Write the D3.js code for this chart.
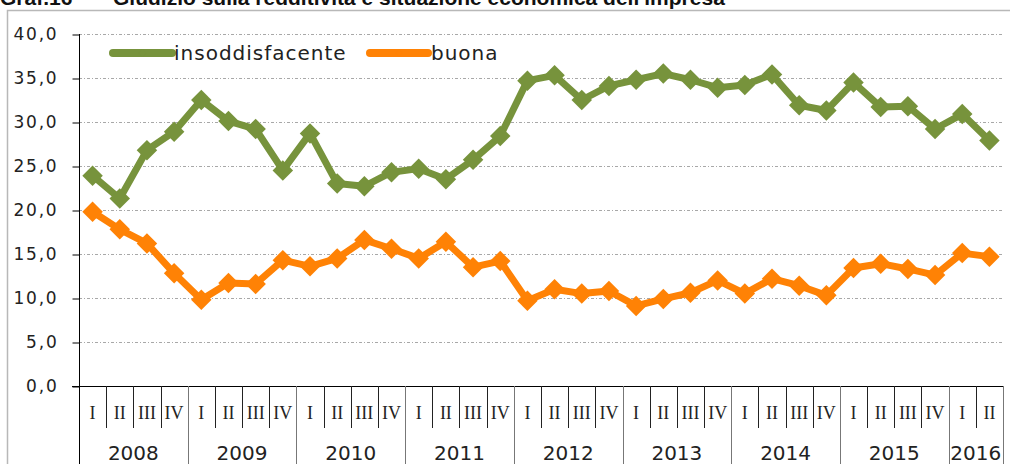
<!DOCTYPE html>
<html>
<head>
<meta charset="utf-8">
<script src="https://cdn.jsdelivr.net/npm/d3@7"></script>
<style>
  body { margin: 0; background: #fff; }
  svg { display: block; }
</style>
</head>
<body>
<svg id="chart" width="1010" height="464"></svg>
<script>
// dati
var years = ["2008", "2009", "2010", "2011", "2012", "2013", "2014", "2015", "2016"];
var quarters = ["I", "II", "III", "IV"];
var insoddisfacente = [23.9, 21.3, 26.8, 28.9, 32.5, 30.1, 29.2, 24.5, 28.7, 23.0, 22.7, 24.3,
                       24.7, 23.5, 25.7, 28.4, 34.7, 35.3, 32.5, 34.1, 34.8, 35.5, 34.8, 33.9,
                       34.2, 35.4, 31.9, 31.3, 34.5, 31.7, 31.8, 29.2, 30.9, 27.9];
var buona = [19.8, 17.8, 16.2, 12.8, 9.8, 11.7, 11.6, 14.3, 13.6, 14.5, 16.6, 15.6,
             14.5, 16.4, 13.5, 14.2, 9.7, 11.0, 10.5, 10.8, 9.1, 9.9, 10.6, 12.0,
             10.5, 12.2, 11.4, 10.3, 13.4, 13.9, 13.3, 12.6, 15.1, 14.7];
var yTicks = [0, 5, 10, 15, 20, 25, 30, 35, 40];

var svg = d3.select("#chart");
var mLeft = 79, mRight = 1003, mTop = 34, mBottom = 386;

// categorie: anno + trimestre
var cats = [];
for (var i = 0; i < insoddisfacente.length; i++) {
  cats.push({ i: i, q: quarters[i % 4], y: years[Math.floor(i / 4)] });
}

var x = d3.scaleBand().domain(d3.range(cats.length)).range([mLeft, mRight]);
var y = d3.scaleLinear().domain([0, 40]).range([mBottom, mTop]);

// titolo (tagliato in alto)
svg.append("text").attr("x", 0).attr("y", 5)
   .style("font", "bold 21px 'Liberation Sans', Arial, sans-serif").attr("fill", "#111")
   .text("Graf.16");
svg.append("text").attr("x", 113).attr("y", 5)
   .style("font", "bold 21px 'Liberation Sans', Arial, sans-serif").attr("fill", "#111")
   .text("Giudizio sulla redditività e situazione economica dell'impresa");

// cornice
svg.append("path").attr("d", "M7.5,464 L7.5,10.5 L1010,10.5")
   .attr("fill", "none").attr("stroke", "#b8b8b8").attr("stroke-width", 1.5);

// griglia
svg.append("g").selectAll("line").data(yTicks.filter(function(d){ return d > 0; }))
   .enter().append("line")
   .attr("x1", mLeft).attr("x2", mRight)
   .attr("y1", function(d){ return Math.round(y(d)) + 0.5; })
   .attr("y2", function(d){ return Math.round(y(d)) + 0.5; })
   .attr("stroke", "#a8a8a8").attr("stroke-width", 1)
   .attr("stroke-dasharray", "3,2,1,2");

// asse y
var yAxis = svg.append("g").attr("transform", "translate(" + (mLeft + 0.5) + ",0.5)")
   .call(d3.axisLeft(y).tickValues(yTicks).tickSize(7).tickPadding(14)
        .tickFormat(function(d){ return d3.format(".1f")(d).replace(".", ","); }));
yAxis.select(".domain").remove();
yAxis.selectAll(".tick line").attr("stroke", "#000");
yAxis.selectAll(".tick text")
   .style("font-family", "'DejaVu Sans', sans-serif").style("font-size", "17px")
   .style("letter-spacing", "1.8px").attr("fill", "#222");

// assi
svg.append("line").attr("x1", mLeft + 0.5).attr("x2", mLeft + 0.5).attr("y1", mTop).attr("y2", 464)
   .attr("stroke", "#000");
svg.append("line").attr("x1", mLeft - 7).attr("x2", mRight).attr("y1", mBottom + 0.5).attr("y2", mBottom + 0.5)
   .attr("stroke", "#000");

// separatori trimestri / anni
var seps = d3.range(1, cats.length + 1);
svg.append("g").selectAll("line").data(seps).enter().append("line")
   .attr("x1", function(d){ return Math.round(x(d - 1) + x.bandwidth()) + 0.5; })
   .attr("x2", function(d){ return Math.round(x(d - 1) + x.bandwidth()) + 0.5; })
   .attr("y1", mBottom)
   .attr("y2", function(d){ return (d % 4 === 0 || d === cats.length) ? 464 : 428; })
   .attr("stroke", function(d){ return (d % 4 === 0 || d === cats.length) ? "#777" : "#222"; });

svg.append("g").selectAll("text").data(cats).enter().append("text")
   .attr("x", function(d){ return x(d.i) + x.bandwidth() / 2; })
   .attr("y", 419).attr("text-anchor", "middle")
   .style("font-family", "'Liberation Serif', serif").style("font-size", "18px")
   .attr("fill", "#222")
   .text(function(d){ return d.q; });

svg.append("g").selectAll("text").data(years).enter().append("text")
   .attr("x", function(d, k){
      var a = k * 4, b = Math.min(k * 4 + 3, cats.length - 1);
      return (x(a) + x(b) + x.bandwidth()) / 2;
   })
   .attr("y", 460).attr("text-anchor", "middle")
   .style("font-family", "'DejaVu Sans', sans-serif").style("font-size", "20px")
   .attr("fill", "#222")
   .text(function(d){ return d; });

// serie
var series = [
  { name: "insoddisfacente", values: insoddisfacente, color: "#77933c" },
  { name: "buona", values: buona, color: "#ff8205" }
];
var line = d3.line()
   .x(function(d, i){ return x(i) + x.bandwidth() / 2; })
   .y(function(d){ return y(d); });
var diamond = d3.symbol().type(d3.symbolSquare).size(210);

series.forEach(function(s){
  svg.append("path").datum(s.values)
     .attr("d", line).attr("fill", "none")
     .attr("stroke", s.color).attr("stroke-width", 7).attr("stroke-linejoin", "round");
  svg.append("g").selectAll("path").data(s.values).enter().append("path")
     .attr("d", diamond)
     .attr("transform", function(d, i){
        return "translate(" + (x(i) + x.bandwidth() / 2) + "," + y(d) + ") rotate(45)";
     })
     .attr("fill", s.color);
});

// legenda
var legendPos = [{ x1: 113, x2: 172, tx: 174 }, { x1: 370, x2: 428, tx: 431 }];
series.forEach(function(s, k){
  var p = legendPos[k];
  svg.append("line").attr("x1", p.x1).attr("x2", p.x2).attr("y1", 53).attr("y2", 53)
     .attr("stroke", s.color).attr("stroke-width", 8).attr("stroke-linecap", "round");
  svg.append("path").attr("d", d3.symbol().type(d3.symbolSquare).size(30))
     .attr("transform", "translate(" + ((p.x1 + p.x2) / 2) + ",53) rotate(45)")
     .attr("fill", s.color);
  svg.append("text").attr("x", p.tx).attr("y", 60)
     .style("font-family", "'DejaVu Sans', sans-serif").style("font-size", "20px")
     .style("letter-spacing", "1px")
     .attr("fill", "#222").text(s.name);
});
</script>
</body>
</html>
